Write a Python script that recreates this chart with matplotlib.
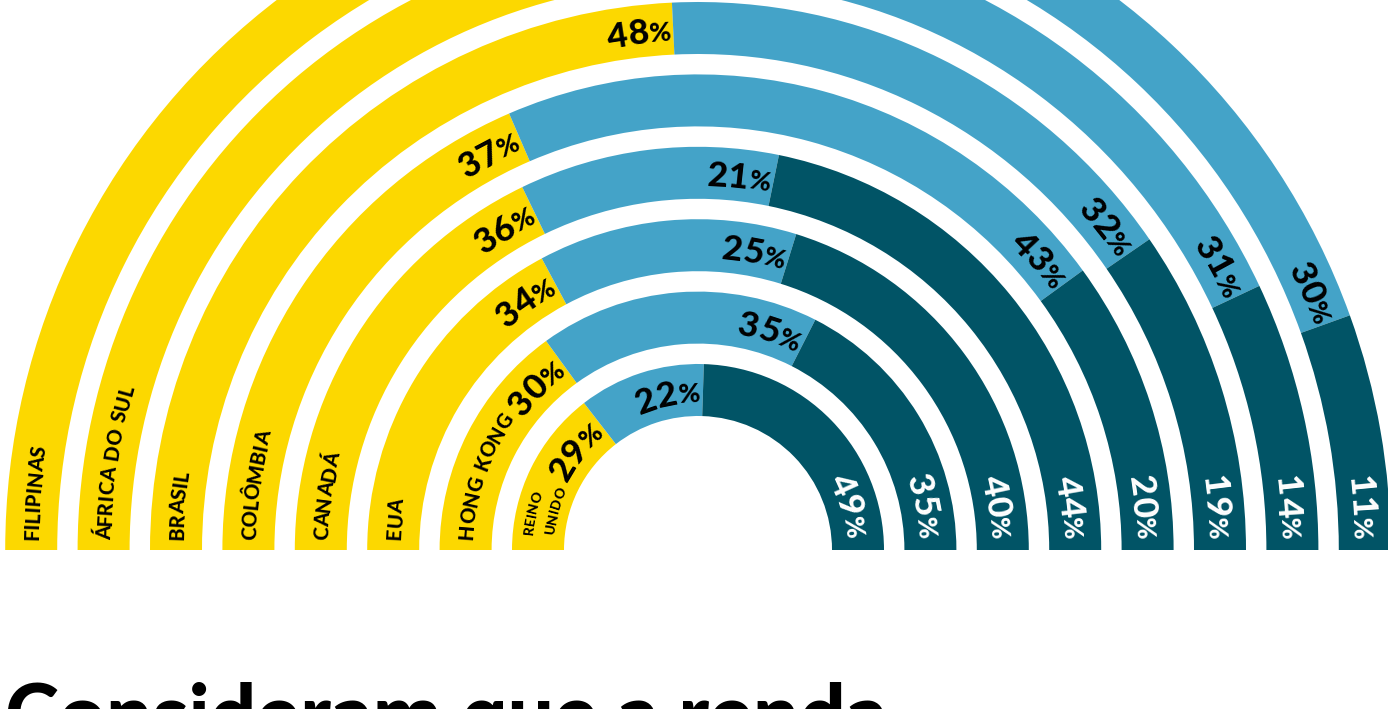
import numpy as np
import matplotlib
matplotlib.use("Agg")
import matplotlib.pyplot as plt
from matplotlib.patches import Wedge
from matplotlib.font_manager import FontProperties
from matplotlib.textpath import TextToPath

# ---------------- data (inner ring -> outer ring) ----------------
countries = [["REINO", "UNIDO"], ["HONG KONG"], ["EUA"], ["CANADÁ"], ["COLÔMBIA"],
             ["BRASIL"], ["ÁFRICA DO SUL"], ["FILIPINAS"]]
yellow = [29, 30, 34, 36, 37, 48, 55, 59]
blue = [22, 35, 25, 21, 43, 32, 31, 30]
dark = [49, 35, 40, 44, 20, 19, 14, 11]
title = "Consideram que a renda"

seg_colors = ["#FCD800", "#44A3C8", "#015466"]
txt_colors = ["black", "black", "white"]

# ---------------- layout ----------------
W, H = 1388, 709
DPI = 100
fig = plt.figure(figsize=(W / DPI, H / DPI), dpi=DPI)
ax = fig.add_axes([0, 0, 1, 1])
ax.set_xlim(0, W)
ax.set_ylim(0, H)
ax.axis("off")

cx, cy = 698, H - 550
r_out0, step, ring_w = 186, 72.4, 52

t2p = TextToPath()
PX = DPI / 72.0


def metrics(s, prop):
    w, h, d = t2p.get_text_width_height_descent(s, prop, ismath=False)
    return w * PX, (h - d) * PX


def advance(ch, prop):
    a = metrics("H" + ch + "H", prop)[0] - metrics("HH", prop)[0]
    if ch == " ":
        a += 0.12 * prop.get_size() * PX
    return a


def char_layout(text, prop, track):
    out = []
    pos = 0.0
    for ch in text:
        a = advance(ch, prop)
        if ch != " ":
            out.append((ch, pos + a / 2.0))
        pos += a + track
    return out, pos - track


def arc_text(runs, r, theta_start, color):
    """Draw runs [(text, prop, rise_px, track)] clockwise from theta_start."""
    s_total = 0.0
    for text, prop, rise, track in runs:
        chars, L = char_layout(text, prop, track)
        for ch, c in chars:
            th = theta_start - (s_total + c) / r
            rr = r + rise
            x, y = cx + rr * np.cos(th), cy + rr * np.sin(th)
            if y > H + 5:  # entirely above the visible canvas
                continue
            ax.text(x, y, ch, fontproperties=prop, color=color, ha="center",
                    va="baseline", rotation=np.degrees(th) - 90,
                    rotation_mode="anchor")
        s_total += L


def run_len(runs):
    return sum(char_layout(t, p, tr)[1] for t, p, _, tr in runs)


p_big = FontProperties(family="Lato", weight="black", size=25.5)
p_pct = FontProperties(family="Lato", weight="black", size=19)
p_cty = FontProperties(family="Lato", weight="black", size=14.5)
p_small = FontProperties(family="Lato", weight="black", size=10)

cap_big = metrics("0", p_big)[1]
cap_cty = metrics("H", p_cty)[1]
cap_small = metrics("H", p_small)[1]

pad = 2
for i in range(len(yellow)):
    r_o = r_out0 + step * i
    r_mid = r_o - ring_w / 2.0
    vals = [yellow[i], blue[i], dark[i]]
    tot = float(sum(vals))
    th0 = 180.0
    for j, v in enumerate(vals):
        th1 = th0 - v / tot * 180.0
        ax.add_patch(Wedge((cx, cy), r_o, th1, th0, width=ring_w,
                           facecolor=seg_colors[j], edgecolor="none", lw=0))
        # percentage label at the clockwise end of the segment
        runs = [(str(v), p_big, 0.0, 0.0), ("%", p_pct, 1.0, 0.0)]
        rb = r_mid - cap_big / 2.0
        end_pad = 10 if j == 2 else pad
        L = run_len(runs)
        th_end = np.radians(th1) + end_pad / rb
        arc_text(runs, rb, th_end + L / rb, txt_colors[j])
        th0 = th1
    # country label(s)
    lines = countries[i]
    if len(lines) == 1:
        rb = r_mid - cap_cty / 2.0
        arc_text([(lines[0], p_cty, 0.0, 0.0)], rb, np.pi - 10 / rb, "black")
    else:
        offs = [10.5, -10.5]
        for ln, off in zip(lines, offs):
            rb = r_mid + off - cap_small / 2.0
            arc_text([(ln, p_small, 0.0, 0.0)], rb, np.pi - 15 / rb, "black")

# ---------------- title (cut by the bottom edge) ----------------
p_title = FontProperties(family="Lato", weight="black", size=100)
w100, _ = metrics(title, p_title)
p_title.set_size(100 * 883 / w100)
asc = metrics("d", p_title)[1]
ax.text(5, H - (682 + asc), title, fontproperties=p_title, color="black",
        ha="left", va="baseline")

fig.savefig("out.png", dpi=DPI, facecolor="white")
